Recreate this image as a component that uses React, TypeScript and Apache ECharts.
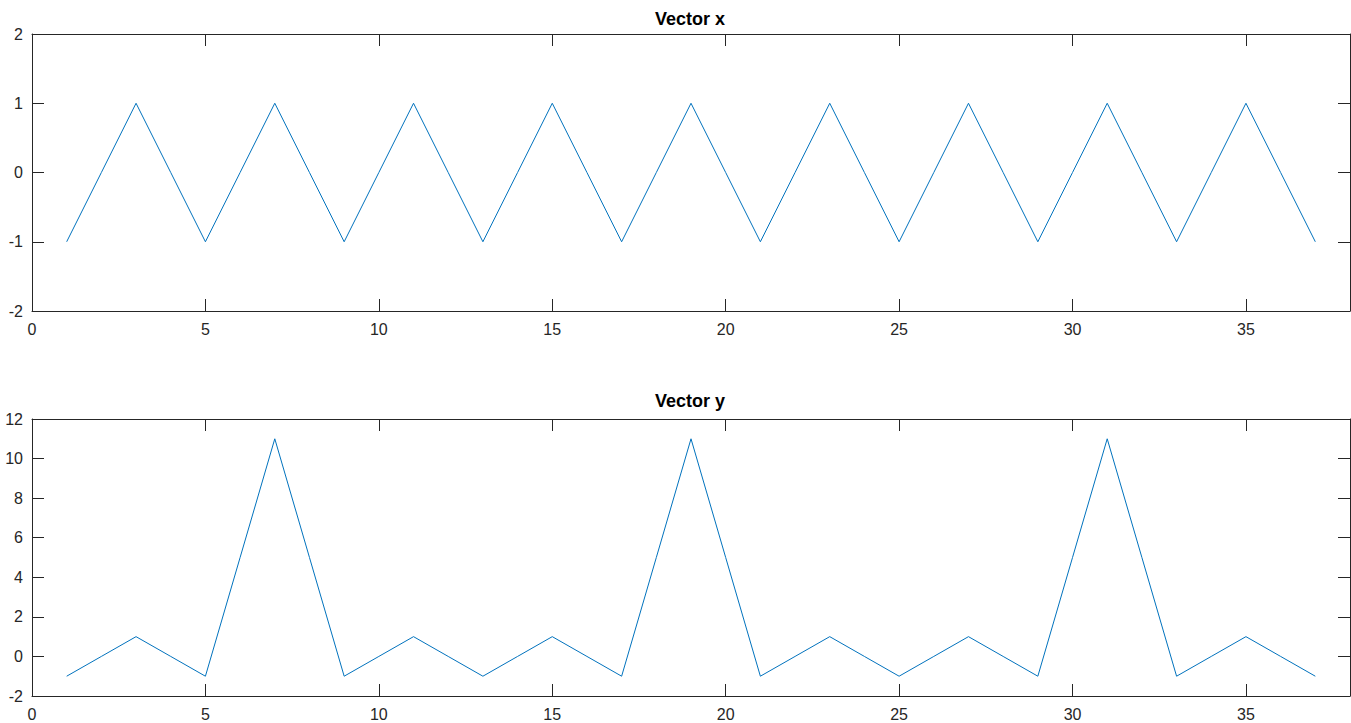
import React, { useEffect, useRef } from "react";
import * as echarts from "echarts";

const xIndex = [1,2,3,4,5,6,7,8,9,10,11,12,13,14,15,16,17,18,19,20,21,22,23,24,25,26,27,28,29,30,31,32,33,34,35,36,37];
const vectorX = [-1,0,1,0,-1,0,1,0,-1,0,1,0,-1,0,1,0,-1,0,1,0,-1,0,1,0,-1,0,1,0,-1,0,1,0,-1,0,1,0,-1];
const vectorY = [-1,0,1,0,-1,5,11,5,-1,0,1,0,-1,0,1,0,-1,5,11,5,-1,0,1,0,-1,0,1,0,-1,5,11,5,-1,0,1,0,-1];
const titles = ["Vector x", "Vector y"];
const xRange = [0, 38, 5];
const yRangeTop = [-2, 2, 1];
const yRangeBottom = [-2, 12, 2];

const AX = "#262626";
const FONT = "'Liberation Sans', Arial, sans-serif";

function xAxes(gridIndex: number) {
  const base = {
    type: "value" as const,
    gridIndex,
    min: xRange[0],
    max: xRange[1],
    interval: xRange[2],
    splitLine: { show: false },
    axisLine: { show: true, onZero: false, lineStyle: { color: AX, width: 1 } },
    axisTick: { show: true, inside: true, length: 12, lineStyle: { color: AX } },
  };
  return [
    {
      ...base,
      position: "bottom",
      axisLabel: {
        color: AX,
        fontSize: 16,
        fontFamily: FONT,
        margin: 10,
        showMaxLabel: false,
        formatter: (v: number) => (v % 5 === 0 ? String(v) : ""),
      },
    },
    { ...base, position: "top", axisLabel: { show: false } },
  ];
}

function yAxes(gridIndex: number, r: number[]) {
  const base = {
    type: "value" as const,
    gridIndex,
    min: r[0],
    max: r[1],
    interval: r[2],
    splitLine: { show: false },
    axisLine: { show: true, onZero: false, lineStyle: { color: AX, width: 1 } },
    axisTick: { show: true, inside: true, length: 12, lineStyle: { color: AX } },
  };
  return [
    {
      ...base,
      position: "left",
      axisLabel: { color: AX, fontSize: 16, fontFamily: FONT, margin: 9 },
    },
    { ...base, position: "right", axisLabel: { show: false } },
  ];
}

export default function App() {
  const ref = useRef<HTMLDivElement>(null);
  useEffect(() => {
    document.body.style.margin = "0";
    const chart = echarts.init(ref.current!, null, { renderer: "svg" });
    const toPairs = (vals: number[]) => xIndex.map((x, i) => [x, vals[i]]);
    chart.setOption({
      animation: false,
      backgroundColor: "#ffffff",
      title: [
        {
          text: titles[0],
          left: 690,
          top: 10,
          padding: 0,
          textAlign: "center",
          textStyle: { fontSize: 18, fontWeight: "bold", color: "#000", fontFamily: FONT },
        },
        {
          text: titles[1],
          left: 690,
          top: 392,
          padding: 0,
          textAlign: "center",
          textStyle: { fontSize: 18, fontWeight: "bold", color: "#000", fontFamily: FONT },
        },
      ],
      grid: [
        { left: 32, top: 34, width: 1318, height: 277 },
        { left: 32, top: 419, width: 1318, height: 277 },
      ],
      xAxis: [...xAxes(0), ...xAxes(1)],
      yAxis: [...yAxes(0, yRangeTop), ...yAxes(1, yRangeBottom)],
      series: [
        {
          type: "line",
          xAxisIndex: 0,
          yAxisIndex: 0,
          data: toPairs(vectorX),
          showSymbol: false,
          symbol: "none",
          lineStyle: { color: "#0072BD", width: 1 },
        },
        {
          type: "line",
          xAxisIndex: 2,
          yAxisIndex: 2,
          data: toPairs(vectorY),
          showSymbol: false,
          symbol: "none",
          lineStyle: { color: "#0072BD", width: 1 },
        },
      ],
    });
    return () => chart.dispose();
  }, []);
  return <div ref={ref} style={{ width: 1351, height: 723 }} />;
}
